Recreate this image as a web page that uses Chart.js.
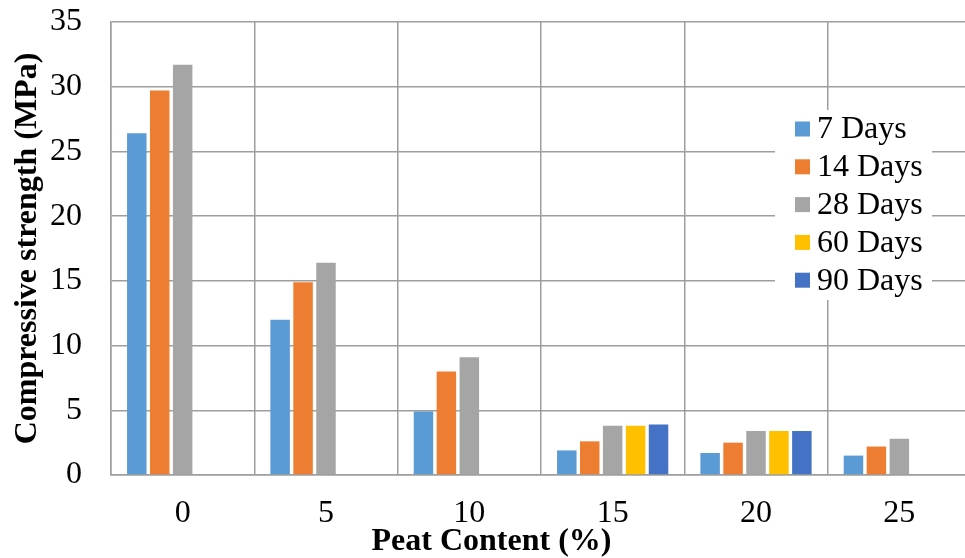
<!DOCTYPE html>
<html>
<head>
<meta charset="utf-8">
<script src="https://cdn.jsdelivr.net/npm/chart.js@4.4.1/dist/chart.umd.min.js"></script>
<style>
  html, body { margin: 0; padding: 0; background: #fff; overflow: hidden; }
  #wrap { width: 975px; height: 558px; }
</style>
</head>
<body>
<div id="wrap"><canvas id="chart" width="975" height="558"></canvas></div>
<script>
// Peat content (%) on the x axis
const peatContent = ['0', '5', '10', '15', '20', '25'];

// Compressive strength (MPa) per curing age
const days7  = [26.4, 12.0, 4.9, 1.9, 1.7, 1.5];
const days14 = [29.7, 14.9, 8.0, 2.6, 2.5, 2.2];
const days28 = [31.7, 16.4, 9.1, 3.8, 3.4, 2.8];
const days60 = [null, null, null, 3.8, 3.4, null];
const days90 = [null, null, null, 3.9, 3.4, null];

const seriesNames = ['7 Days', '14 Days', '28 Days', '60 Days', '90 Days'];
const seriesColors = ['#5B9BD5', '#ED7D31', '#A5A5A5', '#FFC000', '#4472C4'];
const seriesData = [days7, days14, days28, days60, days90];

const yTicks = [0, 5, 10, 15, 20, 25, 30, 35];

const serif = "'Liberation Serif', 'Times New Roman', serif";
const gridColor = '#9e9e9e';

// Legend box sitting inside the plot on the right, over the grid
const boxLegend = {
  id: 'boxLegend',
  afterDatasetsDraw(chart) {
    const ctx = chart.ctx;
    const x0 = 775, y0 = 110, w = 157, h = 190;
    const rowTop = 129, rowGap = 37.8;
    ctx.save();
    ctx.fillStyle = '#fff';
    ctx.fillRect(x0, y0, w, h);
    ctx.font = '32px ' + serif;
    ctx.textBaseline = 'middle';
    ctx.textAlign = 'left';
    chart.data.datasets.forEach((ds, i) => {
      const cy = rowTop + i * rowGap;
      ctx.fillStyle = ds.backgroundColor;
      ctx.fillRect(795, cy - 7.5, 15, 15);
      ctx.fillStyle = '#000';
      ctx.fillText(ds.label, 817, cy + 1);
    });
    ctx.restore();
  }
};

const config = {
  type: 'bar',
  data: {
    labels: peatContent,
    datasets: seriesNames.map((name, i) => ({
      label: name,
      data: seriesData[i],
      backgroundColor: seriesColors[i],
      borderWidth: 0,
      categoryPercentage: 0.8,
      barPercentage: 0.85
    }))
  },
  options: {
    responsive: false,
    animation: false,
    layout: { padding: { left: 12, right: 4, top: 0, bottom: 0 } },
    plugins: {
      legend: { display: false },
      tooltip: { enabled: false },
      title: {
        display: true,
        position: 'bottom',
        text: 'Peat Content (%)',
        color: '#000',
        font: { family: serif, size: 32, weight: 'bold', lineHeight: 1 },
        // negative top padding keeps the title low while shrinking its box
        padding: { top: -27, bottom: 0 }
      }
    },
    scales: {
      x: {
        grid: { color: gridColor, lineWidth: 1.5, offset: true, drawTicks: false },
        border: { color: gridColor, width: 1.5 },
        ticks: { color: '#000', font: { family: serif, size: 32, lineHeight: 1 }, padding: 23 }
      },
      y: {
        min: 0,
        max: 35,
        afterBuildTicks: scale => { scale.ticks = yTicks.map(v => ({ value: v })); },
        grid: { color: gridColor, lineWidth: 1.5, tickLength: 23, tickColor: 'rgba(0,0,0,0)' },
        border: { color: gridColor, width: 1.5 },
        ticks: { color: '#000', font: { family: serif, size: 32, lineHeight: 1 }, padding: 6 },
        title: {
          display: true,
          text: 'Compressive strength (MPa)',
          color: '#000',
          font: { family: serif, size: 32, weight: 'bold', lineHeight: 1 },
          padding: { top: 0, bottom: 0 }
        }
      }
    }
  },
  plugins: [boxLegend]
};

const chart = new Chart(document.getElementById('chart'), config);
</script>
</body>
</html>
